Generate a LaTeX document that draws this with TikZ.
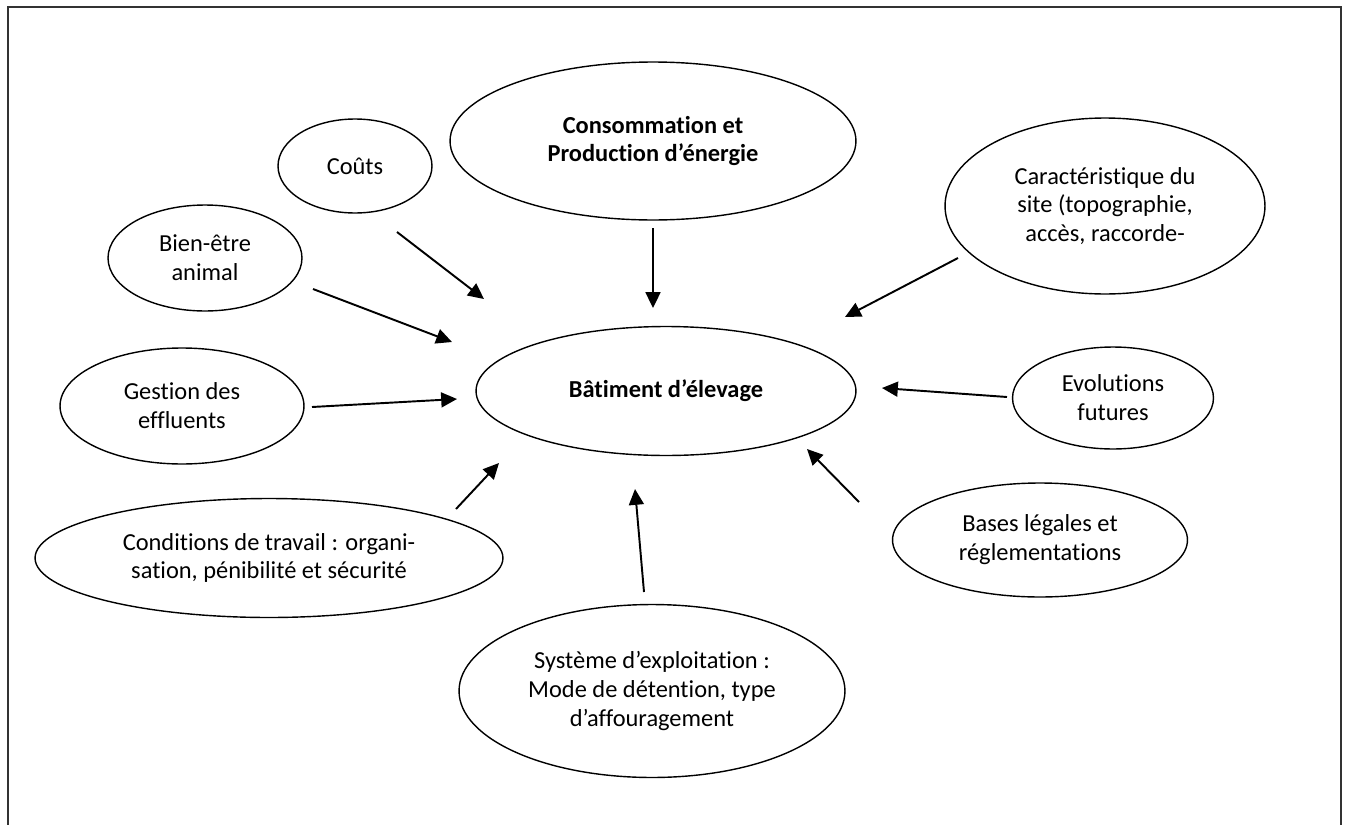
\documentclass[tikz,border=0pt]{standalone}
\usepackage{fontspec}
\setmainfont{Carlito}[Ligatures=NoCommon, RawFeature={-liga;-clig;-calt;-dlig}]
\usetikzlibrary{shapes.geometric,arrows.meta}
\tikzset{
  ell/.style={ellipse, draw, line width=0.8pt, inner sep=0pt, align=center, font=\fontsize{13.9}{16.4}\selectfont},
  boldell/.style={ell, font=\fontsize{13.9}{16.4}\selectfont\bfseries},
  arr/.style={line width=1.1pt, -{Triangle[length=9pt,width=8.5pt]}},
  frame/.style={line width=1pt, draw=black!80}
}
\begin{document}
\begin{tikzpicture}[x=0.02cm, y=-0.02cm]
\useasboundingbox (0,0) rectangle (1346,825);
\begin{scope}
\clip (0,0) rectangle (1346,825);
\draw[frame] (8,7) rectangle (1341,860);
\end{scope}

\node[ell, minimum width=3.08cm, minimum height=1.88cm] (couts) at (355,166) {Coûts};
\node[ell, minimum width=3.88cm, minimum height=2.12cm] (bien) at (205,258) {Bien-être\\animal};
\node[boldell, minimum width=8.12cm, minimum height=3.16cm] (conso) at (653,141) {Consommation et\\Production d’énergie};
\node[ell, minimum width=6.4cm, minimum height=3.52cm] (carac) at (1105,206) {Caractéristique du\\site (topographie,\\accès, raccorde-};
\node[boldell, minimum width=7.6cm, minimum height=2.58cm] (bat) at (666,391) {Bâtiment d’élevage};
\node[ell, minimum width=4.88cm, minimum height=2.32cm] (gestion) at (182,406) {Gestion des\\effluents};
\node[ell, minimum width=4.02cm, minimum height=2.04cm] (evol) at (1113,398) {Evolutions\\futures};
\node[ell, minimum width=5.9cm, minimum height=2.28cm] (bases) at (1040,540) {Bases légales et\\réglementations};
\node[ell, minimum width=9.36cm, minimum height=2.38cm] (cond) at (269,558) {Conditions de travail : organi-\\sation, pénibilité et sécurité};
\node[ell, minimum width=7.72cm, minimum height=3.46cm] (sys) at (652,691) {Système d’exploitation :\\Mode de détention, type\\d’affouragement};

\coordinate (a1s) at (397,232); \coordinate (a1e) at (484,299);
\coordinate (a2s) at (313,289); \coordinate (a2e) at (452,342);
\coordinate (a3s) at (312,407); \coordinate (a3e) at (457,399);
\coordinate (a4s) at (456,509); \coordinate (a4e) at (499,463);
\coordinate (a5s) at (644,592); \coordinate (a5e) at (635,489);
\coordinate (a6s) at (859,502); \coordinate (a6e) at (807,449);
\coordinate (a7s) at (1007,397); \coordinate (a7e) at (882,388);
\coordinate (a8s) at (958,258); \coordinate (a8e) at (845,317);
\coordinate (a9s) at (653,228); \coordinate (a9e) at (653,308);

\draw[arr] (a1s) -- (a1e);
\draw[arr] (a2s) -- (a2e);
\draw[arr] (a3s) -- (a3e);
\draw[arr] (a4s) -- (a4e);
\draw[arr] (a5s) -- (a5e);
\draw[arr] (a6s) -- (a6e);
\draw[arr] (a7s) -- (a7e);
\draw[arr] (a8s) -- (a8e);
\draw[arr] (a9s) -- (a9e);
\end{tikzpicture}
\end{document}
